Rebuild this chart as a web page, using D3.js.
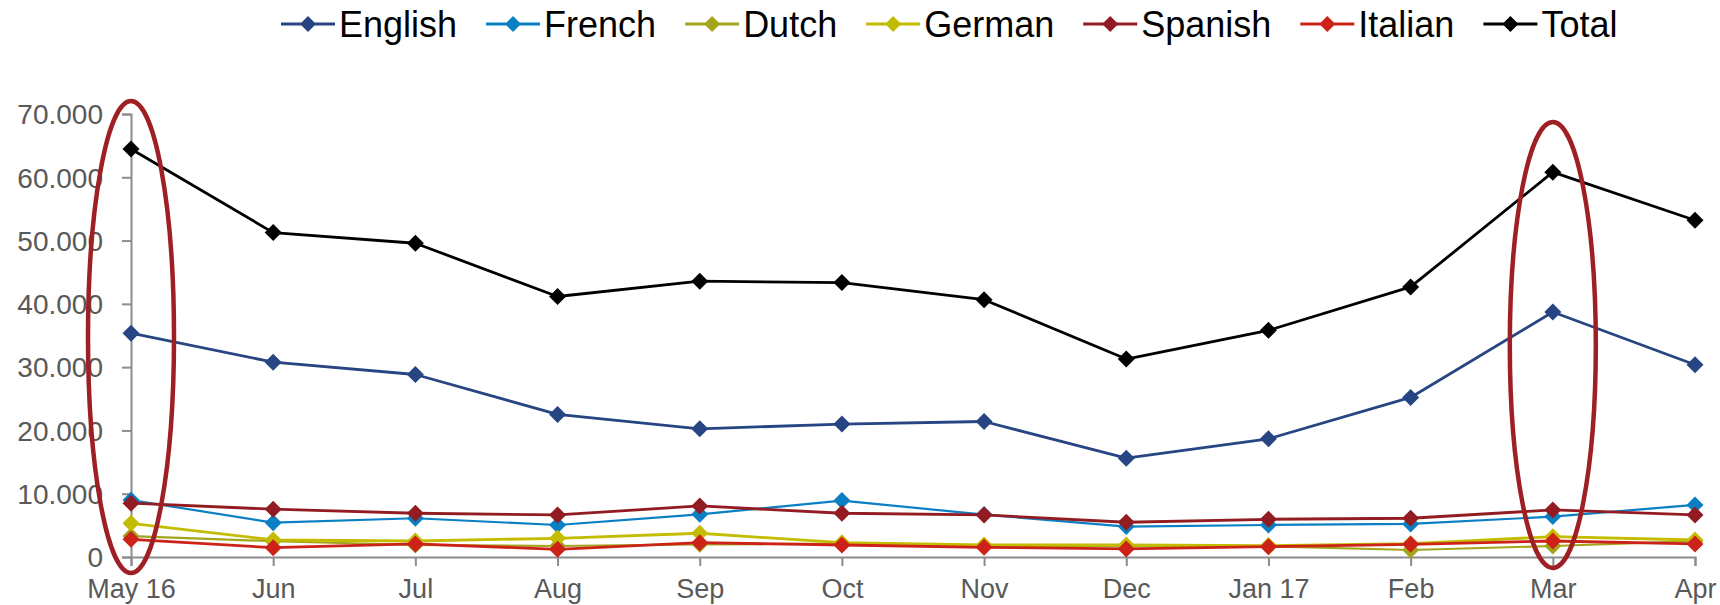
<!DOCTYPE html>
<html>
<head>
<meta charset="utf-8">
<script src="https://cdn.jsdelivr.net/npm/d3@7"></script>
<style>
  body { margin: 0; background: #fff; }
  svg { display: block; font-family: "Liberation Sans", Arial, sans-serif; }
</style>
</head>
<body>
<div id="chart"></div>
<script>
// data
var months = ["May 16", "Jun", "Jul", "Aug", "Sep", "Oct", "Nov", "Dec", "Jan 17", "Feb", "Mar", "Apr"];
var english = [35370, 30790, 28840, 22530, 20260, 21000, 21410, 15610, 18670, 25210, 38720, 30380];
var french  = [9000, 5430, 6120, 5060, 6750, 8910, 6700, 4800, 5060, 5220, 6380, 8230];
var dutch   = [3300, 2500, 1900, 1740, 2000, 2100, 1740, 1700, 1700, 1110, 1740, 2500];
var german  = [5330, 2690, 2530, 2950, 3750, 2260, 1900, 1900, 1800, 2100, 3210, 2690];
var spanish = [8500, 7550, 6910, 6650, 8070, 6910, 6650, 5490, 5960, 6120, 7440, 6650];
var italian = [2800, 1470, 2060, 1220, 2260, 1900, 1530, 1270, 1630, 2000, 2530, 2060];
var total   = [64470, 51260, 49580, 41160, 43580, 43370, 40660, 31280, 35810, 42670, 60810, 53210];
var yTicks  = [0, 10000, 20000, 30000, 40000, 50000, 60000, 70000];
var highlighted = ["May 16", "Mar"];

var series = [
  {name: "English", values: english, color: "#264582", width: 2.8},
  {name: "French",  values: french,  color: "#0a7fc4", width: 2.2},
  {name: "Dutch",   values: dutch,   color: "#a3a51c", width: 2.2},
  {name: "German",  values: german,  color: "#c4bc00", width: 2.8},
  {name: "Spanish", values: spanish, color: "#931c22", width: 2.8},
  {name: "Italian", values: italian, color: "#cc2218", width: 2.8},
  {name: "Total",   values: total,   color: "#000000", width: 2.8}
];

var W = 1720, H = 605;
var plotLeft = 131, plotRight = 1695, plotTop = 114, plotBottom = 557;

var svg = d3.select('#chart').append('svg')
    .attr('width', W)
    .attr('height', H);

var x = d3.scalePoint().domain(months).range([plotLeft, plotRight]).padding(0);
var y = d3.scaleLinear().domain([0, 70000]).range([plotBottom, plotTop]);

var de = d3.formatLocale({decimal: ",", thousands: ".", grouping: [3], currency: ["", "€"]});
var fmt = de.format(",");

var axisColor = "#8c8c8c";

// y axis
var gy = svg.append('g')
    .attr('transform', 'translate(' + plotLeft + ',0)')
    .call(d3.axisLeft(y).tickValues(yTicks).tickSize(9).tickPadding(19).tickFormat(fmt));
gy.select('.domain').attr('stroke', axisColor).attr('stroke-width', 2);
gy.selectAll('.tick line').attr('stroke', axisColor).attr('stroke-width', 2);
gy.selectAll('.tick text')
    .attr('fill', '#595959')
    .style('font-size', '28px')
    .attr('dy', '0.35em');

// x axis
var gx = svg.append('g')
    .attr('transform', 'translate(0,' + plotBottom + ')')
    .call(d3.axisBottom(x).tickSize(9).tickPadding(13));
gx.select('.domain').attr('stroke', axisColor).attr('stroke-width', 2);
gx.selectAll('.tick line').attr('stroke', axisColor).attr('stroke-width', 2);
gx.selectAll('.tick text')
    .attr('fill', '#595959')
    .style('font-size', '27px');

var diamond = function(r) { return 'M0,' + (-r) + 'L' + r + ',0L0,' + r + 'L' + (-r) + ',0Z'; };

var line = d3.line()
    .x(function(d, i) { return x(months[i]); })
    .y(function(d) { return y(d); });

var g = svg.selectAll('.serie')
    .data(series)
    .enter().append('g')
    .attr('class', 'serie');

g.append('path')
    .attr('d', function(s) { return line(s.values); })
    .attr('fill', 'none')
    .attr('stroke', function(s) { return s.color; })
    .attr('stroke-width', function(s) { return s.width; })
    .attr('stroke-linejoin', 'round');

g.each(function(s) {
  d3.select(this).selectAll('.pt')
    .data(s.values)
    .enter().append('path')
    .attr('class', 'pt')
    .attr('d', diamond(8.5))
    .attr('transform', function(d, i) { return 'translate(' + x(months[i]) + ',' + y(d) + ')'; })
    .attr('fill', s.color);
});

// red ellipses around highlighted months
svg.selectAll('.hl')
    .data(highlighted)
    .enter().append('ellipse')
    .attr('class', 'hl')
    .attr('cx', function(d) { return x(d); })
    .attr('cy', function(d, i) { return i == 0 ? 337 : 345; })
    .attr('rx', 43)
    .attr('ry', function(d, i) { return i == 0 ? 236 : 223; })
    .attr('fill', 'none')
    .attr('stroke', '#9e1f24')
    .attr('stroke-width', 4.5);

// legend
var legend = svg.append('g').attr('transform', 'translate(0,24)');
var lx = 281;
series.forEach(function(s) {
  var item = legend.append('g').attr('transform', 'translate(' + lx + ',0)');
  item.append('line')
      .attr('x1', 0).attr('x2', 54)
      .attr('stroke', s.color)
      .attr('stroke-width', 2.8);
  item.append('path')
      .attr('d', diamond(8))
      .attr('transform', 'translate(27,0)')
      .attr('fill', s.color);
  var t = item.append('text')
      .attr('x', 58)
      .attr('dy', '0.36em')
      .style('font-size', '36px')
      .attr('fill', '#000')
      .text(s.name);
  lx += 58 + t.node().getComputedTextLength() + 29;
});
</script>
</body>
</html>
